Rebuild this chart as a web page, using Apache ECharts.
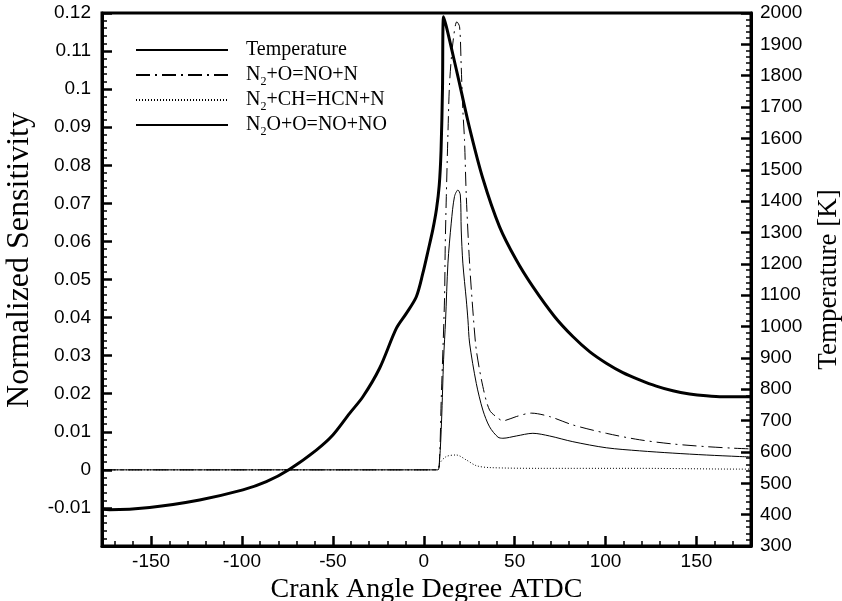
<!DOCTYPE html>
<html>
<head>
<meta charset="utf-8">
<script src="https://cdn.jsdelivr.net/npm/echarts@6/dist/echarts.min.js"></script>
<style>
html,body{margin:0;padding:0;background:#fff;}
#chart{width:842px;height:601px;}
</style>
</head>
<body>
<div id="chart"></div>
<script>
// ---- Data ----
const seriesNames = ['Temperature', 'N2+O=NO+N', 'N2+CH=HCN+N', 'N2O+O=NO+NO'];

// Temperature [K] vs crank angle
const tempAngle = [-177, -172.8, -150.8, -123.3, -99.5, -86.6, -73.8, -59.1, -50, -40.8, -33.5, -24.3, -15.1, -9.6, -4.1, -0.5, 2.5, 5.0, 7.0, 8.5, 9.5, 10.3, 10.9,
  18.3, 24.9, 32.5, 41.7, 50.9, 60.0, 71.9, 82.0, 91.2, 100.4, 109.5, 118.7, 127.9, 137.0, 146.2, 155.4, 164.5, 175.5, 180];
const tempK = [417, 416, 423, 447, 479, 505, 545, 606, 654, 723, 776, 867, 994, 1042, 1095, 1170, 1245, 1310, 1375, 1450, 1560, 1760, 1988,
  1810, 1640, 1472, 1318, 1212, 1127, 1032, 968, 920, 883, 853, 830, 810, 795, 785, 779, 776, 776, 776];

// N2+O=NO+N normalized sensitivity
const n2oAngle = [-177, 7.6, 8.7, 9.6, 11.4, 11.8, 12.4, 13.3, 14.2, 16.0, 18.2, 19.7, 20.6, 21.5, 22.4, 23.4, 25.2, 27.4, 28.9, 32.5, 36.2, 40.8, 43.5,
  50.9, 59.1, 69.2, 82.0, 100.4, 118.7, 137.0, 155.4, 170.0, 180];
const n2oSens = [0, 0, 0.0035, 0.0184, 0.0446, 0.0586, 0.0718, 0.0884, 0.1016, 0.1121, 0.1177, 0.1164, 0.1059, 0.0945, 0.0867, 0.0718, 0.0543, 0.0394, 0.0315, 0.0219, 0.0157, 0.0136, 0.0129,
  0.0140, 0.0149, 0.0140, 0.0118, 0.0096, 0.0079, 0.0068, 0.0061, 0.0057, 0.0055];

// N2+CH=HCN+N normalized sensitivity
const n2chAngle = [-177, 7.6, 8.7, 12.4, 17.9, 23.4, 28.9, 36.2, 63.7, 118.7, 173.7, 180];
const n2chSens = [0, 0, 0.0017, 0.0035, 0.0039, 0.0026, 0.0011, 0.0006, 0.0004, 0.0004, 0.0002, 0.0002];

// N2O+O=NO+NO normalized sensitivity
const n2o2Angle = [-177, 7.6, 8.7, 9.8, 10.9, 12.0, 13.3, 15.1, 16.9, 18.8, 20.1, 20.6, 21.5, 23.4, 24.3, 25.2, 28.9, 32.5, 36.2, 40.8, 43.5,
  50.9, 60.0, 69.2, 82.0, 100.4, 118.7, 137.0, 155.4, 173.7, 180];
const n2o2Sens = [0, 0, 0.0026, 0.0131, 0.0289, 0.0394, 0.0543, 0.0648, 0.0718, 0.0735, 0.0722, 0.0630, 0.0543, 0.0446, 0.0394, 0.0333, 0.0227, 0.0157, 0.0113, 0.0086, 0.0083,
  0.0089, 0.0096, 0.0089, 0.0074, 0.0058, 0.0050, 0.0044, 0.0039, 0.0035, 0.0034];

// Axis ranges / labels
const xRange = [-177, 180];
const sensRange = [-0.02, 0.12];
const sensStep = 0.01;
const tempRange = [300, 2000];
const tempStep = 100;
const xTitle = 'Crank Angle Degree ATDC';
const yLeftTitle = 'Normalized Sensitivity';
const yRightTitle = 'Temperature [K]';

// ---- Chart ----
const pairs = (xs, ys) => xs.map((x, i) => [x, ys[i]]);
const sans = 'Liberation Sans';
const serif = 'Liberation Serif';

const legendText = name => {
  if (name.indexOf('N2') === 0) return '{n|N}{s|2}{n|' + name.slice(2) + '}';
  return '{n|' + name + '}{s| }';
};

const chart = echarts.init(document.getElementById('chart'), null, {renderer: 'canvas'});

const axisCommon = {
  axisLine: {show: true, onZero: false, lineStyle: {color: '#000', width: 3}},
  axisTick: {show: true, inside: true, length: 10, lineStyle: {color: '#000', width: 2.5}},
  minorTick: {show: true, splitNumber: 5, length: 5, lineStyle: {color: '#000', width: 1.5}},
  splitLine: {show: false},
  minorSplitLine: {show: false}
};

chart.setOption({
  animation: false,
  backgroundColor: '#fff',
  grid: {left: 102, right: 91, top: 13, bottom: 55, show: true, borderColor: '#000', borderWidth: 3,
         outerBoundsMode: 'none', containLabel: false},
  legend: {
    orient: 'vertical',
    left: 135,
    top: 40,
    padding: 0,
    itemWidth: 92,
    itemHeight: 14,
    itemGap: 2,
    selectedMode: false,
    data: seriesNames,
    formatter: legendText,
    itemStyle: {opacity: 0, borderWidth: 0},
    textStyle: {
      padding: [0, 0, 0, 13],
      rich: {
        n: {fontFamily: serif, fontSize: 20, lineHeight: 20, verticalAlign: 'top', color: '#000'},
        s: {fontFamily: serif, fontSize: 12, lineHeight: 12, verticalAlign: 'top', padding: [11, 0, 0, 0], color: '#000'}
      }
    }
  },
  xAxis: Object.assign({}, axisCommon, {
    type: 'value',
    min: xRange[0],
    max: xRange[1],
    splitNumber: 7,
    name: xTitle,
    nameLocation: 'middle',
    nameGap: 22,
    nameTextStyle: {fontFamily: serif, fontSize: 28, color: '#000'},
    axisLabel: {color: '#000', fontFamily: sans, fontSize: 19, margin: 6, showMinLabel: false, showMaxLabel: false}
  }),
  yAxis: [
    Object.assign({}, axisCommon, {
      type: 'value',
      position: 'left',
      min: sensRange[0],
      max: sensRange[1],
      interval: sensStep,
      name: yLeftTitle,
      nameLocation: 'middle',
      nameRotate: 90,
      nameGap: 66,
      nameTextStyle: {fontFamily: serif, fontSize: 32, color: '#000', padding: [0, 0, 0, 39]},
      axisLabel: {color: '#000', fontFamily: sans, fontSize: 19, margin: 11, showMinLabel: false}
    }),
    Object.assign({}, axisCommon, {
      type: 'value',
      position: 'right',
      min: tempRange[0],
      max: tempRange[1],
      interval: tempStep,
      name: yRightTitle,
      nameLocation: 'middle',
      nameRotate: 90,
      nameGap: 64,
      nameTextStyle: {fontFamily: serif, fontSize: 27, color: '#000'},
      axisLabel: {color: '#000', fontFamily: sans, fontSize: 19, margin: 9, formatter: v => String(v)}
    })
  ],
  series: [
    {
      name: seriesNames[0], type: 'line', yAxisIndex: 1, symbol: 'none', smooth: 0.3,
      lineStyle: {color: '#000', width: 3}, itemStyle: {color: '#000'}, z: 5,
      data: pairs(tempAngle, tempK)
    },
    {
      name: seriesNames[1], type: 'line', yAxisIndex: 0, symbol: 'none', smooth: 0.3,
      lineStyle: {color: '#000', width: 1, type: [14, 5, 2, 5]}, itemStyle: {color: '#000'},
      data: pairs(n2oAngle, n2oSens)
    },
    {
      name: seriesNames[2], type: 'line', yAxisIndex: 0, symbol: 'none', smooth: 0.3,
      lineStyle: {color: '#000', width: 1, type: [1, 2]}, itemStyle: {color: '#000'},
      data: pairs(n2chAngle, n2chSens)
    },
    {
      name: seriesNames[3], type: 'line', yAxisIndex: 0, symbol: 'none', smooth: 0.3,
      lineStyle: {color: '#000', width: 1}, itemStyle: {color: '#000'},
      data: pairs(n2o2Angle, n2o2Sens)
    }
  ]
});
</script>
</body>
</html>
